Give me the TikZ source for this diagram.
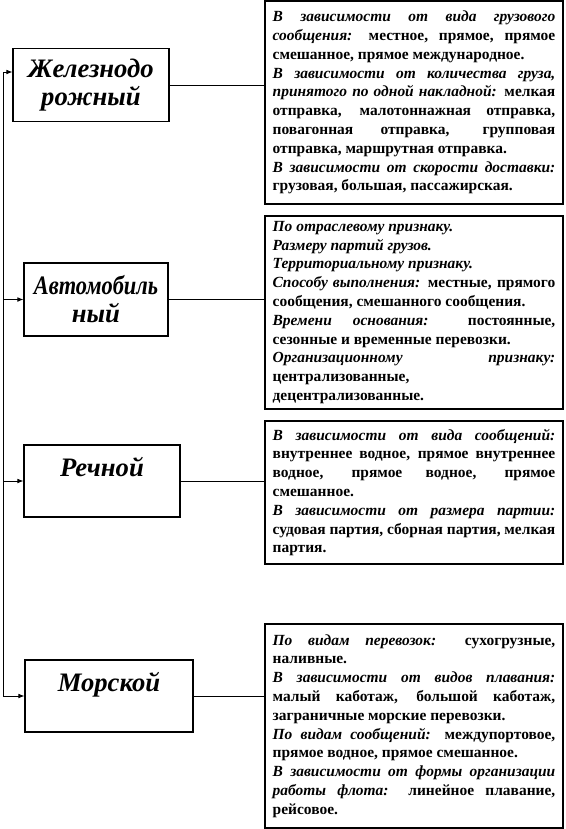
\documentclass[tikz,border=0pt]{standalone}
\usepackage{fontspec}
\setmainfont{Liberation Serif}
\usepackage{graphicx}
\usepackage{tikz}
\usetikzlibrary{arrows.meta}
\setlength{\parindent}{0pt}
\hyphenpenalty=10000
\exhyphenpenalty=10000
\tolerance=10000

\tikzset{
  kindbox/.style={draw, line width=0.8pt, align=center, inner sep=0pt,
    font=\fontsize{20}{21}\selectfont\bfseries\itshape},
  infobox/.style={draw, line width=0.8pt, text width=212pt, inner xsep=5.75pt,
    inner ysep=0pt, align=justify, font=\fontsize{11.6}{14.1}\selectfont\bfseries},
  feed/.style={line width=0.6pt, -{Latex[length=4.5pt,width=3.5pt]}},
  link/.style={line width=0.6pt}
}

\begin{document}
\begin{tikzpicture}[x=0.75pt, y=-0.75pt]
      \useasboundingbox (0,0) rectangle (566,829);

      % Kinds of transport
      \node[kindbox, minimum width=117pt, minimum height=54.75pt] (rail) at (91,85) {Железнодо\\рожный};
      \node[kindbox, minimum width=108pt, minimum height=54.75pt] (auto) at (96,299.5) {\scalebox{0.84}[1]{Автомобиль}\\ный};
      \node[kindbox, minimum width=117pt, minimum height=54pt] (river) at (102,481) {Речной\\\phantom{Р}};
      \node[kindbox, minimum width=126pt, minimum height=54pt] (sea) at (109,696) {Морской\\\phantom{М}};

      % Descriptions
      \node[infobox, minimum height=152.25pt] (railinfo) at (414,102.5) {%
        {\itshape В зависимости от вида грузового\linebreak сообщения:} местное, прямое, прямое\linebreak смешанное, прямое международное.\par
        {\itshape В зависимости от количества груза,\linebreak принятого по одной накладной:} мелкая\linebreak отправка, малотоннажная отправка,\linebreak повагонная отправка, групповая\linebreak отправка, маршрутная отправка.\par
        {\itshape В зависимости от скорости доставки:}\linebreak грузовая, большая, пассажирская.};
      \node[infobox, minimum height=144.75pt] (autoinfo) at (414,312.5) {%
        {\itshape По отраслевому признаку.}\par
        {\itshape Размеру партий грузов.}\par
        {\itshape Территориальному признаку.}\par
        {\itshape Способу выполнения:} местные, прямого\linebreak сообщения, смешанного сообщения.\par
        {\itshape Времени основания:} постоянные,\linebreak сезонные и временные перевозки.\par
        {\itshape Организационному признаку:}\linebreak централизованные,\newline децентрализованные.};
      \node[infobox, minimum height=107.25pt] (riverinfo) at (414,492.5) {%
        {\itshape В зависимости от вида сообщений:}\linebreak внутреннее водное, прямое внутреннее\linebreak водное, прямое водное, прямое\linebreak смешанное.\par
        {\itshape В зависимости от размера партии:}\linebreak судовая партия, сборная партия, мелкая\linebreak партия.};
      \node[infobox, minimum height=153pt] (seainfo) at (414,726) {%
        {\itshape По видам перевозок:} сухогрузные,\linebreak наливные.\par
        {\itshape В зависимости от видов плавания:}\linebreak малый каботаж, большой каботаж,\linebreak заграничные морские перевозки.\par
        {\itshape По видам сообщений:} междупортовое,\linebreak прямое водное, прямое смешанное.\par
        {\itshape В зависимости от формы организации\linebreak работы флота:} линейное плавание,\linebreak рейсовое.};

      % Left spine with arrows
      \coordinate (spinetop) at (3,72);
      \draw[feed] (spinetop) -- (spinetop -| rail.west);
      \draw[feed] (spinetop |- auto.west) -- (auto.west);
      \draw[feed] (spinetop |- river.west) -- (river.west);
      \draw[feed] (spinetop) |- (sea.west);

      % Links to descriptions
      \draw[link] (rail.east) -- (rail.east -| railinfo.west);
      \draw[link] (auto.east) -- (auto.east -| autoinfo.west);
      \draw[link] (river.east) -- (river.east -| riverinfo.west);
      \draw[link] (sea.east) -- (sea.east -| seainfo.west);

    \end{tikzpicture}
\end{document}
